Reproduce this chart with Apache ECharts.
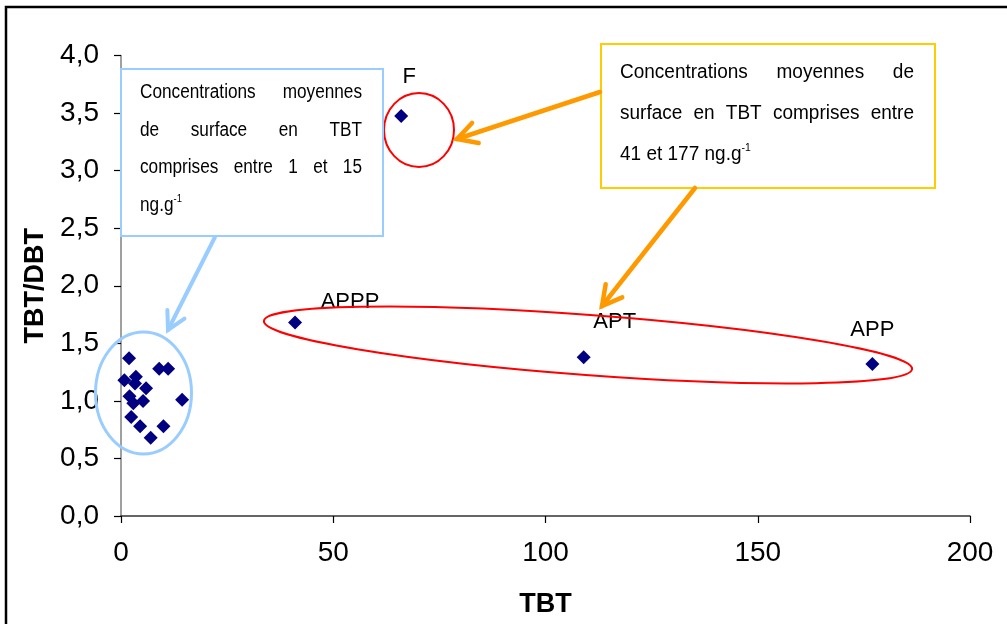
<!DOCTYPE html>
<html>
<head>
<meta charset="utf-8">
<script src="https://cdn.jsdelivr.net/npm/echarts@6/dist/echarts.min.js"></script>
<style>
html,body{margin:0;padding:0;background:#fff;}
#c{width:1007px;height:624px;}
</style>
</head>
<body>
<div id="c"></div>
<script>
// ---- data ----
const clusterTBT   = [1.9, 9.0, 11.1, 0.8, 3.5, 3.3, 5.9, 2.0, 2.9, 5.2, 14.4, 2.4, 4.5, 10.0, 7.0];
const clusterRatio = [1.37, 1.28, 1.28, 1.18, 1.21, 1.15, 1.11, 1.04, 0.98, 1.00, 1.01, 0.86, 0.78, 0.78, 0.68];
const siteNames = ['APPP', 'APT', 'APP', 'F'];
const siteTBT   = [41, 109, 177, 66];
const siteRatio = [1.68, 1.38, 1.32, 3.475];
const xTicks = [0, 50, 100, 150, 200];
const yTicks = [0, 0.5, 1, 1.5, 2, 2.5, 3, 3.5, 4];
const blueBoxLines = [['Concentrations','moyennes'],['de','surface','en','TBT'],['comprises','entre','1','et','15']];
const blueBoxLast = 'ng.g';
const orangeBoxLines = [['Concentrations','moyennes','de'],['surface','en','TBT','comprises','entre']];
const orangeBoxLast = '41 et 177 ng.g';
const supText = '-1';

// ---- helpers (layout only) ----
const mctx = document.createElement('canvas').getContext('2d');
const boxFamily = 'Liberation Sans';
function measure(t, size){ mctx.font = size + 'px ' + boxFamily; return mctx.measureText(t).width; }
function justify(words, x0, x1, y, size, sx){
  const ws = words.map(w => measure(w, size) * sx);
  const total = ws.reduce((a,b)=>a+b,0);
  const gap = (x1 - x0 - total) / (words.length - 1);
  let x = x0; const out = [];
  words.forEach((w,i)=>{
    out.push({type:'text', z:110, x:x, y:y, scaleX:sx, style:{text:w, fill:'#000', fontSize:size, fontFamily:boxFamily, verticalAlign:'middle', align:'left'}});
    x += ws[i] + gap;
  });
  return out;
}
function lastLine(t, x, y, size, sx){
  return {type:'text', z:110, x:x, y:y, scaleX:sx, style:{
    text:'{a|' + t + '}{s|' + supText + '}',
    fontSize:size, fontFamily:boxFamily,
    rich:{a:{fontSize:size, fontFamily:boxFamily, fill:'#000', verticalAlign:'bottom', lineHeight:size+2},
          s:{fontSize:Math.round(size*0.55), fontFamily:boxFamily, fill:'#000', verticalAlign:'top', lineHeight:size+2}},
    verticalAlign:'middle', align:'left'}};
}
function arrow(x0,y0,x1,y1,color,w,len){
  const a = Math.atan2(y1-y0, x1-x0);
  const s = 0.5;
  const p1 = [x1 - len*Math.cos(a - s), y1 - len*Math.sin(a - s)];
  const p2 = [x1 - len*Math.cos(a + s), y1 - len*Math.sin(a + s)];
  return [
    {type:'line', z:105, shape:{x1:x0,y1:y0,x2:x1,y2:y1}, style:{stroke:color, lineWidth:w, lineCap:'round'}},
    {type:'polyline', z:105, shape:{points:[p1,[x1,y1],p2]}, style:{stroke:color, lineWidth:w, fill:null, lineCap:'round', lineJoin:'miter'}}
  ];
}

const chart = echarts.init(document.getElementById('c'), null, {renderer:'canvas'});
const graphics = [];
graphics.push({type:'rect', z:1, shape:{x:6,y:7,width:1100,height:700}, style:{fill:null, stroke:'#000', lineWidth:2.5}});
graphics.push({type:'ellipse', z:100, shape:{cx:143.5, cy:393, rx:48, ry:61}, style:{fill:null, stroke:'#99ccff', lineWidth:3}});
graphics.push({type:'ellipse', z:100, shape:{cx:419, cy:130, rx:35, ry:37}, style:{fill:null, stroke:'#ff0000', lineWidth:2}});
graphics.push({type:'ellipse', z:100, x:588, y:345, rotation:-0.074, shape:{cx:0, cy:0, rx:325, ry:30}, style:{fill:null, stroke:'#ff0000', lineWidth:2}});
graphics.push({type:'rect', z:101, shape:{x:121,y:69,width:262,height:167}, style:{fill:'#fff', stroke:'#99ccff', lineWidth:2}});
graphics.push({type:'rect', z:101, shape:{x:601,y:44,width:334,height:144}, style:{fill:'#fff', stroke:'#ffcc00', lineWidth:2}});
const bSize = 20, bSX = 0.86, bY = [92, 130, 167], bLastY = 204;
blueBoxLines.forEach((ln,i)=>graphics.push(...justify(ln, 140, 362, bY[i], bSize, bSX)));
graphics.push(lastLine(blueBoxLast, 140, bLastY, bSize, bSX));
const oSize = 20, oSX = 0.95, oY = [72, 113], oLastY = 153;
orangeBoxLines.forEach((ln,i)=>graphics.push(...justify(ln, 620, 914, oY[i], oSize, oSX)));
graphics.push(lastLine(orangeBoxLast, 620, oLastY, oSize, oSX));
graphics.push(...arrow(215,237,168,330,'#99ccff',4,20));
graphics.push(...arrow(600,92,457,139,'#ff9900',4.5,22));
graphics.push(...arrow(695,188,602,306,'#ff9900',4.5,22));

const siteLabelOffsets = [[55,-21],[31,-35],[0,-34],[8,-39]];
const fmt = v => v.toFixed(1).replace('.', ',');
const axisFont = 'Liberation Sans';

chart.setOption({
  backgroundColor:'#fff',
  animation:false,
  grid:{left:121, right:37, top:55.5, bottom:108, containLabel:false},
  xAxis:{
    type:'value', min:xTicks[0], max:xTicks[xTicks.length-1], interval:xTicks[1]-xTicks[0],
    name:'TBT', nameLocation:'middle', nameGap:75,
    nameTextStyle:{fontFamily:axisFont, fontWeight:'bold', fontSize:27, color:'#000'},
    axisLine:{show:true, onZero:false, lineStyle:{color:'#333', width:1.5}},
    axisTick:{show:true, inside:false, length:7, lineStyle:{color:'#000', width:1.2}},
    axisLabel:{margin:23, fontFamily:axisFont, fontSize:28, color:'#000', formatter: v => String(v)},
    splitLine:{show:false}
  },
  yAxis:{
    type:'value', min:yTicks[0], max:yTicks[yTicks.length-1], interval:yTicks[1]-yTicks[0],
    name:'TBT/DBT', nameLocation:'middle', nameGap:71,
    nameTextStyle:{fontFamily:axisFont, fontWeight:'bold', fontSize:27, color:'#000'},
    axisLine:{show:true, onZero:false, lineStyle:{color:'#808080', width:1.5}},
    axisTick:{show:true, inside:false, length:7, lineStyle:{color:'#000', width:1.2}},
    axisLabel:{margin:22, fontFamily:axisFont, fontSize:28, color:'#000', formatter: fmt},
    splitLine:{show:false}
  },
  series:[
    {type:'scatter', symbol:'diamond', symbolSize:14, itemStyle:{color:'#000080', opacity:1},
     data: clusterTBT.map((x,i)=>[x, clusterRatio[i]]), z:50},
    {type:'scatter', symbol:'diamond', symbolSize:14, itemStyle:{color:'#000080', opacity:1}, z:50,
     data: siteTBT.map((x,i)=>({value:[x, siteRatio[i]], name:siteNames[i],
        label:{show:true, position:'inside', offset:siteLabelOffsets[i], formatter:'{b}',
               fontFamily:axisFont, fontSize:22, color:'#000', textBorderWidth:0}}))}
  ],
  graphic: graphics
});
</script>
</body>
</html>
